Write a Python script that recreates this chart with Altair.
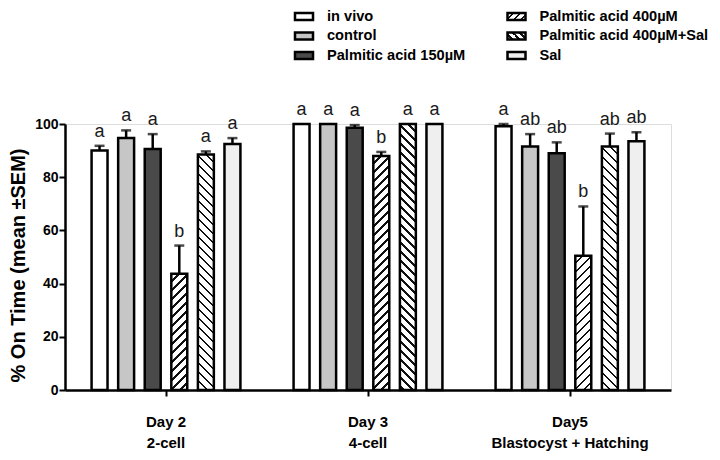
import altair as alt
import pandas as pd

# ---------------- data ----------------
groups = ["Day 2", "Day 3", "Day5"]
sublabels = ["2-cell", "4-cell", "Blastocyst + Hatching"]
treatments = ["in vivo", "control", "Palmitic acid 150µM",
              "Palmitic acid 400µM", "Palmitic acid 400µM+Sal", "Sal"]

mean_day2 = [90.0, 94.7, 90.6, 43.7, 88.5, 92.5]
sem_day2 = [1.8, 2.9, 5.6, 10.6, 1.2, 2.2]
mean_day3 = [100, 100, 98.6, 88.0, 100, 100]
sem_day3 = [0, 0, 1.0, 1.5, 0, 0]
mean_day5 = [99.2, 91.5, 89.0, 50.5, 91.5, 93.5]
sem_day5 = [0.8, 4.7, 4.1, 18.5, 4.9, 3.4]
letters_day2 = ["a", "a", "a", "b", "a", "a"]
letters_day3 = ["a", "a", "a", "b", "a", "a"]
letters_day5 = ["a", "ab", "ab", "b", "ab", "ab"]

legend_col = [0, 0, 0, 1, 1, 1]
legend_row = [0, 1, 2, 0, 1, 2]

means = [mean_day2, mean_day3, mean_day5]
sems = [sem_day2, sem_day3, sem_day5]
letters = [letters_day2, letters_day3, letters_day5]

rows = []
for gi, g in enumerate(groups):
    for ti, t in enumerate(treatments):
        rows.append({"group": g, "treatment": t, "key": f"{gi}-{ti}",
                     "mean": means[gi][ti], "sem": sems[gi][ti],
                     "top": means[gi][ti] + sems[gi][ti],
                     "letter": letters[gi][ti]})
df = pd.DataFrame(rows)
legend_df = pd.DataFrame({"treatment": treatments, "col": legend_col, "row": legend_row})

# ---------------- styling helpers ----------------
W, H = 606, 266
BAR_W = 16
FONT = "Liberation Sans"


def hatch(w, h, direction, period, frac=0.26, bg="white", fg="#111111"):
    k = (w + h) / (w * w + h * h)
    if direction == "/":
        x1, y1, x2, y2 = 0, 0, w * k, h * k
    else:
        x1, y1, x2, y2 = 1, 0, 1 - w * k, h * k
    n = (w + h) / period
    stops = []
    i = 0
    while i < n:
        a = i / n
        b = min((i + 1 - frac) / n, 1)
        c = min((i + 1) / n, 1)
        stops += [(a, bg), (b, bg), (b, fg), (c, fg)]
        i += 1
    return {"gradient": "linear", "x1": x1, "y1": y1, "x2": x2, "y2": y2,
            "stops": [{"offset": o, "color": col} for o, col in stops]}


solid = {"in vivo": "white", "control": "#c6c6c6",
         "Palmitic acid 150µM": "#4a4a4a", "Sal": "#efefef"}
hatch_dir = {"Palmitic acid 400µM": "/", "Palmitic acid 400µM+Sal": "\\"}

conds = []
for _, r in df.iterrows():
    if r["treatment"] in hatch_dir:
        h = r["mean"] * H / 100
        conds.append({"test": f"datum.key === '{r['key']}'",
                      "value": hatch(BAR_W, h, hatch_dir[r['treatment']], 9)})
for t, c in solid.items():
    conds.append({"test": f"datum.treatment === '{t}'", "value": c})
bar_fill = {"condition": conds, "value": "white"}

leg_conds = []
for t in treatments:
    if t in hatch_dir:
        leg_conds.append({"test": f"datum.treatment === '{t}'",
                          "value": hatch(18, 7, hatch_dir[t], 7, frac=0.3)})
    else:
        leg_conds.append({"test": f"datum.treatment === '{t}'", "value": solid[t]})
leg_fill = {"condition": leg_conds, "value": "white"}

label_expr = " : ".join(
    f"datum.label == '{g}' ? ['{g}', '{s}']" for g, s in zip(groups[:-1], sublabels[:-1])
) + f" : ['{groups[-1]}', '{sublabels[-1]}']"

x_enc = alt.X("group:N", sort=groups,
              scale=alt.Scale(paddingInner=0, paddingOuter=0),
              axis=alt.Axis(title=None, labelExpr=label_expr, labelAngle=0,
                            labelFontSize=15, labelFontWeight="bold", labelFont=FONT,
                            labelColor="black", labelPadding=18, labelLineHeight=21,
                            tickSize=6, tickWidth=2, tickColor="black",
                            domainColor="black", domainWidth=2.5))
xo_enc = alt.XOffset("treatment:N", sort=treatments,
                     scale=alt.Scale(domain=treatments, paddingInner=0.4, paddingOuter=1.0))
y_scale = alt.Scale(domain=[0, 100])

bars = alt.Chart(df).mark_bar(stroke="black", strokeWidth=2.5).encode(
    x=x_enc, xOffset=xo_enc,
    y=alt.Y("mean:Q", scale=y_scale,
            axis=alt.Axis(values=[0, 20, 40, 60, 80, 100], grid=False,
                          title="% On Time (mean ±SEM)", titleFont=FONT,
                          titleFontSize=20, titleFontWeight="bold", titleColor="black",
                          titlePadding=6, titleY=141,
                          labelFont=FONT, labelFontSize=14, labelFontWeight="bold",
                          labelColor="black", labelPadding=1,
                          tickSize=6, tickWidth=2, tickColor="black",
                          domainColor="black", domainWidth=2.5)),
    fill=bar_fill,
)

err = alt.Chart(df).transform_filter("datum.sem > 0")
rules = err.mark_rule(color="black", strokeWidth=2.5).encode(
    x=x_enc, xOffset=xo_enc, y=alt.Y("mean:Q", scale=y_scale), y2="top:Q")
caps = err.mark_tick(color="black", thickness=2.5, size=10, orient="horizontal").encode(
    x=x_enc, xOffset=xo_enc, y=alt.Y("top:Q", scale=y_scale))

texts = alt.Chart(df).mark_text(font=FONT, fontSize=18, baseline="alphabetic",
                                dy=-9, color="#1a1a1a").encode(
    x=x_enc, xOffset=xo_enc, y=alt.Y("top:Q", scale=y_scale), text="letter:N")

main = alt.layer(bars, rules, caps, texts)

lx = alt.X("col:O", scale=alt.Scale(type="point", domain=[0, 1], range=[239, 451.5], padding=0), axis=None)
ly = alt.Y("row:O", scale=alt.Scale(type="point", domain=[0, 1, 2], range=[-107.5, -68.5], padding=0), axis=None)
leg_boxes = alt.Chart(legend_df).mark_rect(width=18, height=7, stroke="black", strokeWidth=2.5).encode(
    x=lx, y=ly, fill=leg_fill)
leg_text = alt.Chart(legend_df).mark_text(align="left", baseline="middle", dx=23, font=FONT,
                                          fontSize=14.6, fontWeight="bold", color="black").encode(
    x=lx, y=ly, text="treatment:N")
legend = alt.layer(leg_boxes, leg_text)

chart = alt.layer(main, legend).resolve_scale(x="independent", y="independent").properties(
    width=W, height=H,
    autosize=alt.AutoSizeParams(type="none"),
    padding={"left": 57, "top": 116, "right": 41, "bottom": 62},
).configure_view(stroke=None).configure(background="white")

chart.save("out.html", embed_options={"renderer": "svg", "actions": False})
